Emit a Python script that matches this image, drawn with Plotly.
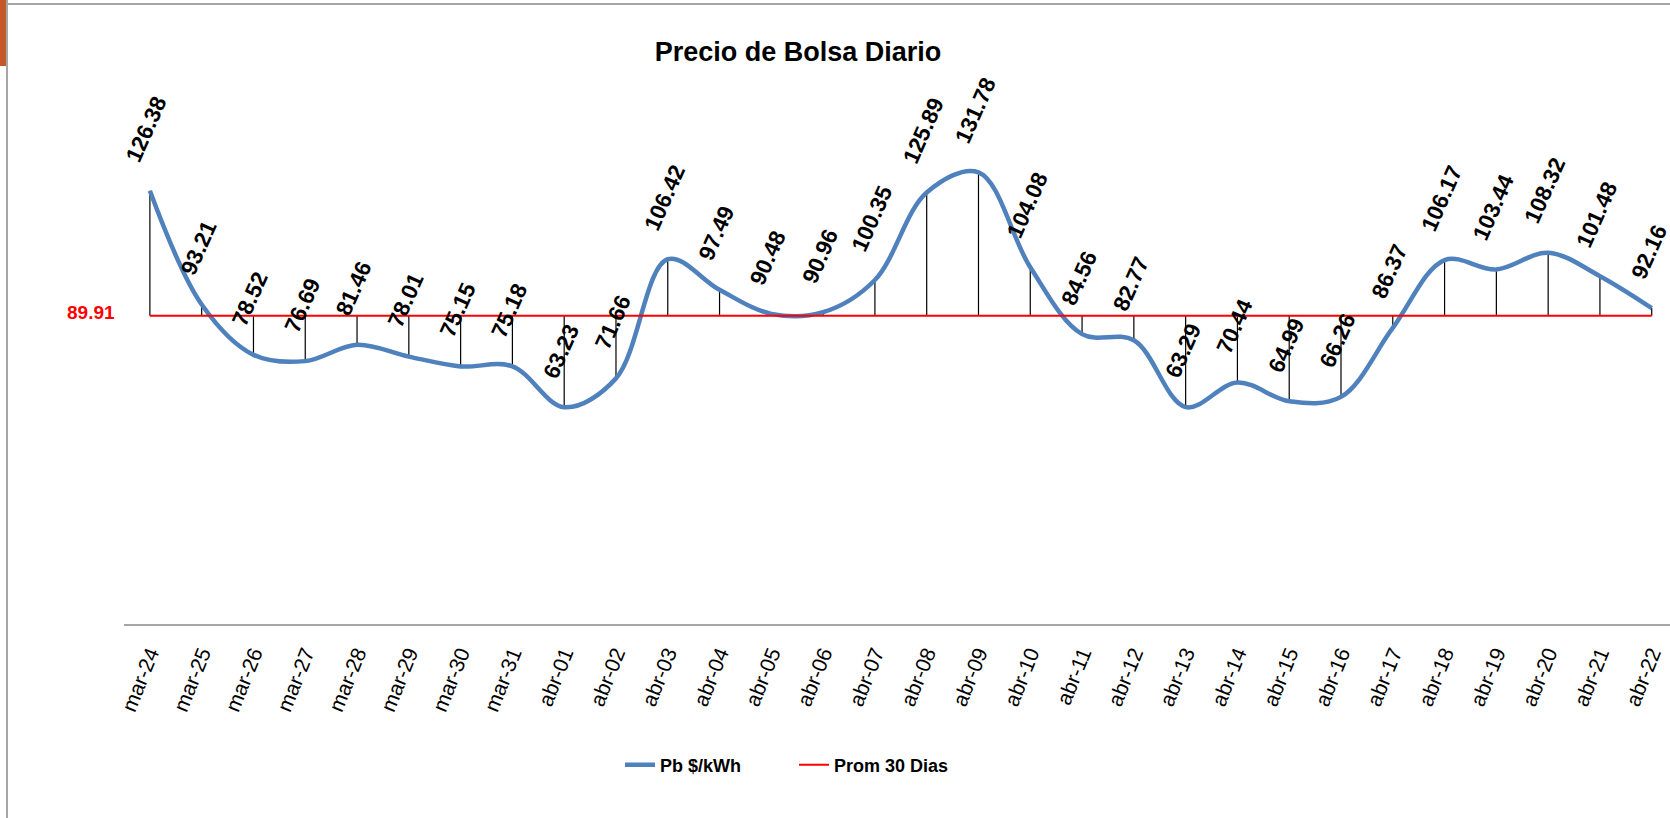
import plotly.graph_objects as go

fechas = ["mar-24", "mar-25", "mar-26", "mar-27", "mar-28", "mar-29", "mar-30", "mar-31",
          "abr-01", "abr-02", "abr-03", "abr-04", "abr-05", "abr-06", "abr-07", "abr-08",
          "abr-09", "abr-10", "abr-11", "abr-12", "abr-13", "abr-14", "abr-15", "abr-16",
          "abr-17", "abr-18", "abr-19", "abr-20", "abr-21", "abr-22"]
precio = [126.38, 93.21, 78.52, 76.69, 81.46, 78.01, 75.15, 75.18,
          63.23, 71.66, 106.42, 97.49, 90.48, 90.96, 100.35, 125.89,
          131.78, 104.08, 84.56, 82.77, 63.29, 70.44, 64.99, 66.26,
          86.37, 106.17, 103.44, 108.32, 101.48, 92.16]
promedio = [89.91] * len(fechas)
titulo = "Precio de Bolsa Diario"
nombre_precio = "Pb $/kWh"
nombre_prom = "Prom 30 Dias"

W, H = 1670, 818
ML, MR, MT, MB = 124, 0, 7, 194
PW, PH = W - ML - MR, H - MT - MB
FONT = "Liberation Sans, Arial, sans-serif"

idx = list(range(len(fechas)))

fig = go.Figure()

# high-low (drop) lines between the price and the average
dx, dy = [], []
for i, (v, p) in enumerate(zip(precio, promedio)):
    dx += [i, i, None]
    dy += [p, v, None]
fig.add_trace(go.Scatter(x=dx, y=dy, mode="lines", line=dict(color="black", width=1.2),
                         showlegend=False, hoverinfo="skip"))

fig.add_trace(go.Scatter(x=idx, y=precio, mode="lines", name=nombre_precio,
                         line=dict(color="#4f81bd", width=4.5, shape="spline", smoothing=1)))
fig.add_trace(go.Scatter(x=idx, y=promedio, mode="lines", name=nombre_prom,
                         line=dict(color="#ff0000", width=2)))

for i, v in enumerate(precio):
    fig.add_annotation(x=i, y=v, text=f"{v:.2f}", textangle=-66, showarrow=False,
                       xanchor="center", yanchor="bottom", yshift=24, xshift=-3, borderpad=0,
                       font=dict(family=FONT, size=22.5, color="black", weight="bold"))

fig.add_annotation(x=0, y=promedio[0], text=f"{promedio[0]:.2f}", showarrow=False,
                   xanchor="right", yanchor="middle", xshift=-33, yshift=3,
                   font=dict(family=FONT, size=19, color="#ff0000", weight="bold"))

def px_x(px):
    return (px - ML) / PW

def px_y(py):
    return (H - MB - py) / PH

# frame remnants of the original sheet
fig.add_shape(type="line", xref="paper", yref="paper", x0=px_x(7), x1=px_x(W + 5),
              y0=px_y(4), y1=px_y(4), line=dict(color="#a6a6a6", width=2))
fig.add_shape(type="line", xref="paper", yref="paper", x0=px_x(7), x1=px_x(7),
              y0=px_y(0), y1=px_y(H + 5), line=dict(color="#a6a6a6", width=2))
fig.add_shape(type="rect", xref="paper", yref="paper", x0=px_x(-2), x1=px_x(6),
              y0=px_y(-2), y1=px_y(66), line=dict(width=0), fillcolor="#c5582a")

fig.update_layout(
    width=W, height=H,
    margin=dict(l=ML, r=MR, t=MT, b=MB, autoexpand=False),
    paper_bgcolor="white", plot_bgcolor="white",
    title=dict(text=titulo, xref="container", yref="container",
               x=798 / W, xanchor="center", y=1 - 52 / H, yanchor="middle",
               font=dict(family=FONT, size=27, color="black", weight="bold")),
    xaxis=dict(tickmode="array", tickvals=idx, ticktext=fechas, automargin=False,
               range=[-0.5, 29.353], showline=True, linecolor="#a6a6a6", linewidth=2,
               ticks="", tickangle=-68, showgrid=False, zeroline=False,
               ticklabelstandoff=7,
               tickfont=dict(family=FONT, size=21, color="black")),
    yaxis=dict(range=[0, 180], visible=False, automargin=False),
    legend=dict(orientation="h", x=px_x(620), xanchor="left", y=px_y(765), yanchor="middle",
                entrywidth=129, entrywidthmode="pixels",
                font=dict(family=FONT, size=18, color="black", weight="bold"),
                bgcolor="rgba(0,0,0,0)"),
    showlegend=True,
)

fig.write_html("out.html", config={"displayModeBar": False},
               post_script="document.body.style.margin='0';")
